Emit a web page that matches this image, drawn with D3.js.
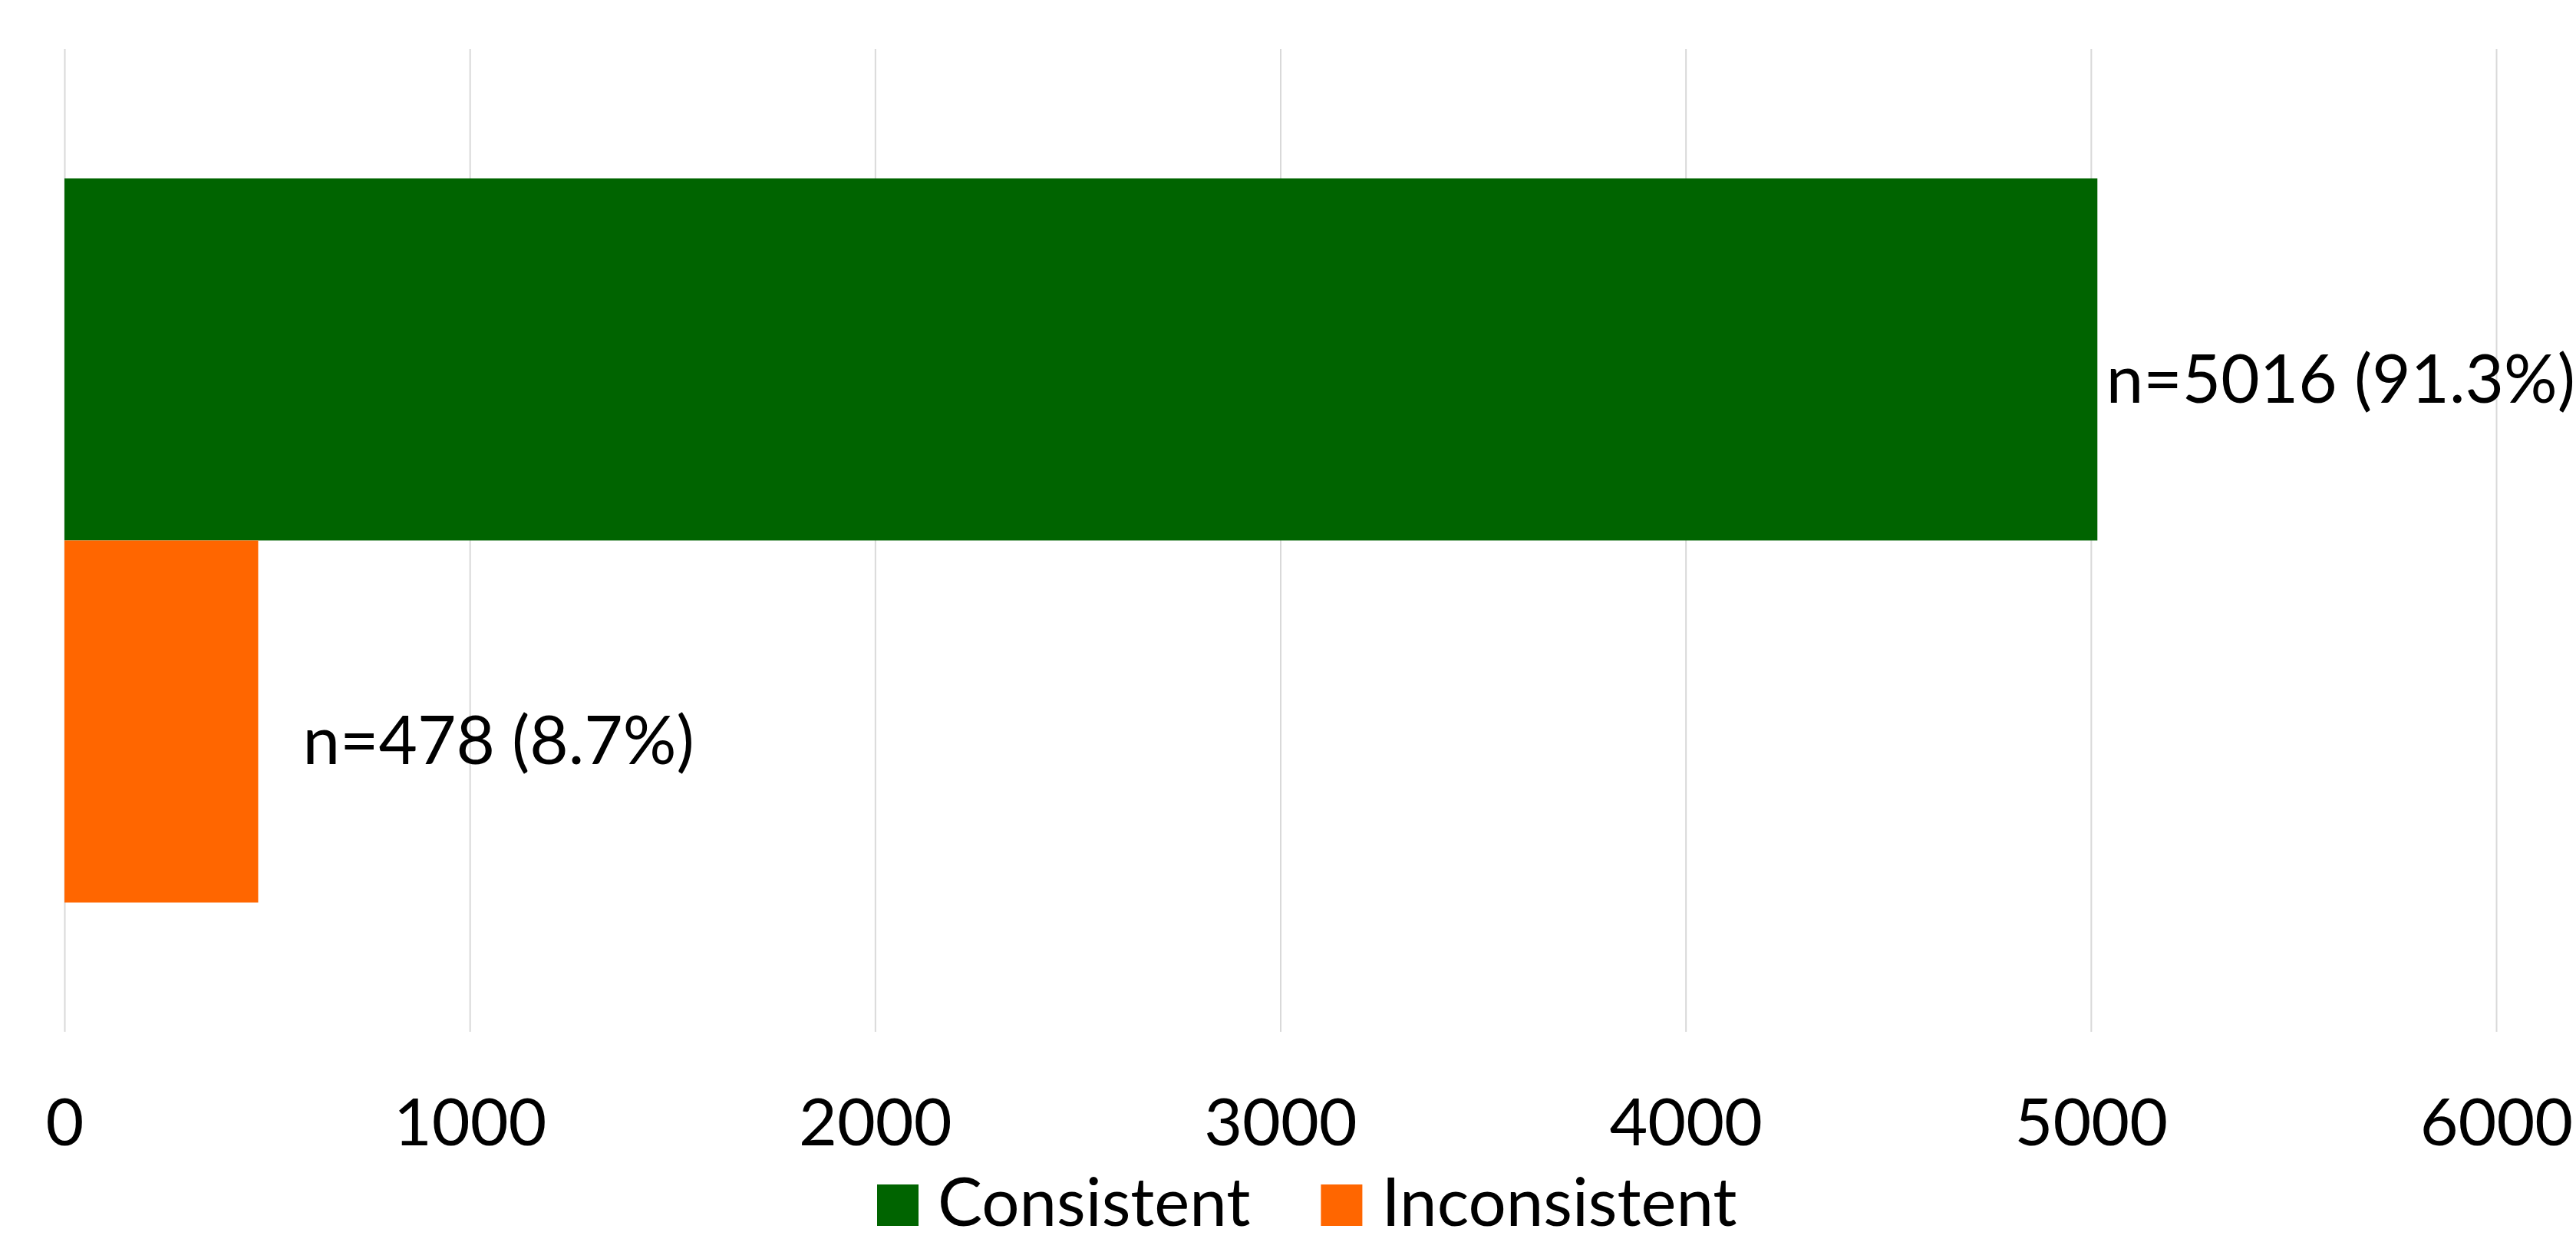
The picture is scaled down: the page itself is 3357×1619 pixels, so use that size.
<!DOCTYPE html>
<html>
<head>
<meta charset="utf-8">
<script src="https://cdn.jsdelivr.net/npm/d3@7"></script>
<style>
  body { margin: 0; background: #fff; }
  svg { display: block; font-family: Lato, "Open Sans", sans-serif; }
  .grid line { stroke: #d9d9d9; stroke-width: 2; }
  .grid text { font-size: 86px; fill: #000; }
  .bar-label { font-size: 87px; fill: #000; }
  .legend text { font-size: 87px; fill: #000; }
</style>
</head>
<body>
<svg width="3357" height="1619"></svg>
<script>
// data
var categories = ['All records'];
var seriesNames = ['Consistent', 'Inconsistent'];
var seriesValues = [5016, 478];
var seriesPercents = [91.3, 8.7];
var tickValues = [0, 1000, 2000, 3000, 4000, 5000, 6000];

var svg = d3.select('svg');
var svgWidth = +svg.attr('width');
var svgHeight = +svg.attr('height');

// plot area
var plot = {l: 84, r: 3253, t: 64, b: 1345};

var xScale = d3.scaleLinear().domain([0, 6000]).range([plot.l, plot.r]);
var yScale = d3.scaleBand().domain(categories).range([plot.t, plot.b])
    .paddingInner(0).paddingOuter(0.1785);
var ySeries = d3.scaleBand().domain(seriesNames).range([0, yScale.bandwidth()]).padding(0);
var colorScale = d3.scaleOrdinal().domain(seriesNames).range(['#006400', '#ff6600']);

// gridlines + tick labels
var xAxis = d3.axisBottom(xScale)
    .tickValues(tickValues)
    .tickFormat(d3.format('d'))
    .tickSize(-(plot.b - plot.t));

var gridG = svg.append('g')
    .attr('class', 'grid')
    .attr('transform', 'translate(0,' + plot.b + ')')
    .call(xAxis);
gridG.select('.domain').remove();
gridG.selectAll('text')
    .attr('y', 148)
    .attr('dy', 0)
    .style('font-family', 'Lato, "Open Sans", sans-serif');

// bars
var rows = seriesNames.map(function (name, i) {
  return {cat: categories[0], name: name, value: seriesValues[i], pct: seriesPercents[i]};
});

var barG = svg.append('g');
barG.selectAll('.bar')
    .data(rows)
    .enter()
    .append('rect')
    .attr('class', 'bar')
    .attr('x', xScale(0))
    .attr('y', function (d) { return yScale(d.cat) + ySeries(d.name); })
    .attr('width', function (d) { return xScale(d.value) - xScale(0); })
    .attr('height', ySeries.bandwidth())
    .style('fill', function (d) { return colorScale(d.name); });

// data labels, pushed back inside the chart if they run off the right edge
barG.selectAll('.bar-label')
    .data(rows)
    .enter()
    .append('text')
    .attr('class', 'bar-label')
    .attr('y', function (d) { return yScale(d.cat) + ySeries(d.name) + ySeries.bandwidth() / 2 + 56; })
    .text(function (d) { return 'n=' + d.value + ' (' + d.pct + '%)'; })
    .attr('x', function (d) {
      var len = this.getComputedTextLength();
      var x = xScale(d.value) + 58;
      return Math.min(x, svgWidth - 1 - len);
    });

// legend (kept just inside the bottom edge)
var legendG = svg.append('g').attr('class', 'legend');
var lx = 1143;
seriesNames.forEach(function (name) {
  legendG.append('rect')
      .attr('x', lx)
      .attr('y', 1544)
      .attr('width', 54)
      .attr('height', 54)
      .style('fill', colorScale(name));
  var t = legendG.append('text')
      .attr('x', lx + 79)
      .attr('y', 1598)
      .text(name);
  lx += 79 + t.node().getComputedTextLength() + 92;
});
</script>
</body>
</html>
